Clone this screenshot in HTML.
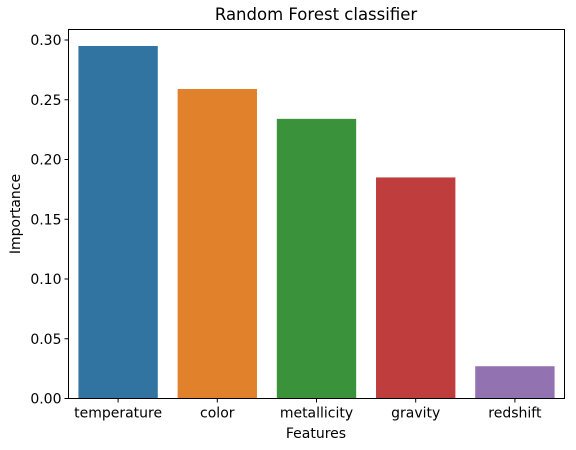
<!DOCTYPE html>
<html><head><meta charset="utf-8"><style>
body{margin:0;background:#fff;font-family:"Liberation Sans","DejaVu Sans",sans-serif}
svg text{font-family:"DejaVu Sans","Liberation Sans",sans-serif;fill:#000}
</style></head><body>
<svg id="chart" width="576" height="445">
<text x="316" y="20" font-size="16.5" text-anchor="middle">Random Forest classifier</text>
<g id="bars"></g><g id="axes"></g>
<text x="316" y="438" font-size="14" text-anchor="middle">Features</text>
<text transform="translate(20,214) rotate(-90)" font-size="14" text-anchor="middle">Importance</text>
</svg>
<script>
const categories=["temperature","color","metallicity","gravity","redshift"];
const values=[0.295,0.259,0.234,0.185,0.027];
const colors=["#3274a1","#e1812c","#3a923a","#c03d3e","#9372b2"];
const yTicks=[0,0.05,0.10,0.15,0.20,0.25,0.30];
const yTickLabels=["0.00","0.05","0.10","0.15","0.20","0.25","0.30"];
const L=68.5,R=564.5,T=29.5,B=398.5;
const y=v=>B-v*(B-40)/0.30;
const band=(R-L)/categories.length;
const x=i=>L+band*(i+0.5);
const NS="http://www.w3.org/2000/svg";
const bars=document.getElementById('bars'),axes=document.getElementById('axes');
function mk(tag,attrs,parent){const e=document.createElementNS(NS,tag);for(const k in attrs)e.setAttribute(k,attrs[k]);parent.appendChild(e);return e;}
values.forEach((v,i)=>{
 const r=mk('rect',{x:x(i)-band*0.4,y:y(v),width:band*0.8,height:B-y(v),fill:colors[i]},bars);
 
 
 mk('line',{x1:x(i),x2:x(i),y1:B,y2:B+4,stroke:'#000','stroke-width':1},axes);
 const lb=mk('text',{x:x(i),y:B+19,'font-size':14,'text-anchor':'middle'},axes);
 lb.textContent=categories[i];
 
 
});
yTicks.forEach((v,i)=>{
 mk('line',{x1:L-4,x2:L,y1:y(v),y2:y(v),stroke:'#000','stroke-width':1},axes);
 const lb=mk('text',{x:L-7,y:y(v)+5,'font-size':14,'text-anchor':'end'},axes);
 lb.textContent=yTickLabels[i];
 
 
});
const frame=mk('rect',{x:L,y:T,width:R-L,height:B-T,fill:'none',stroke:'#000','stroke-width':1},axes);


</script>
</body></html>
